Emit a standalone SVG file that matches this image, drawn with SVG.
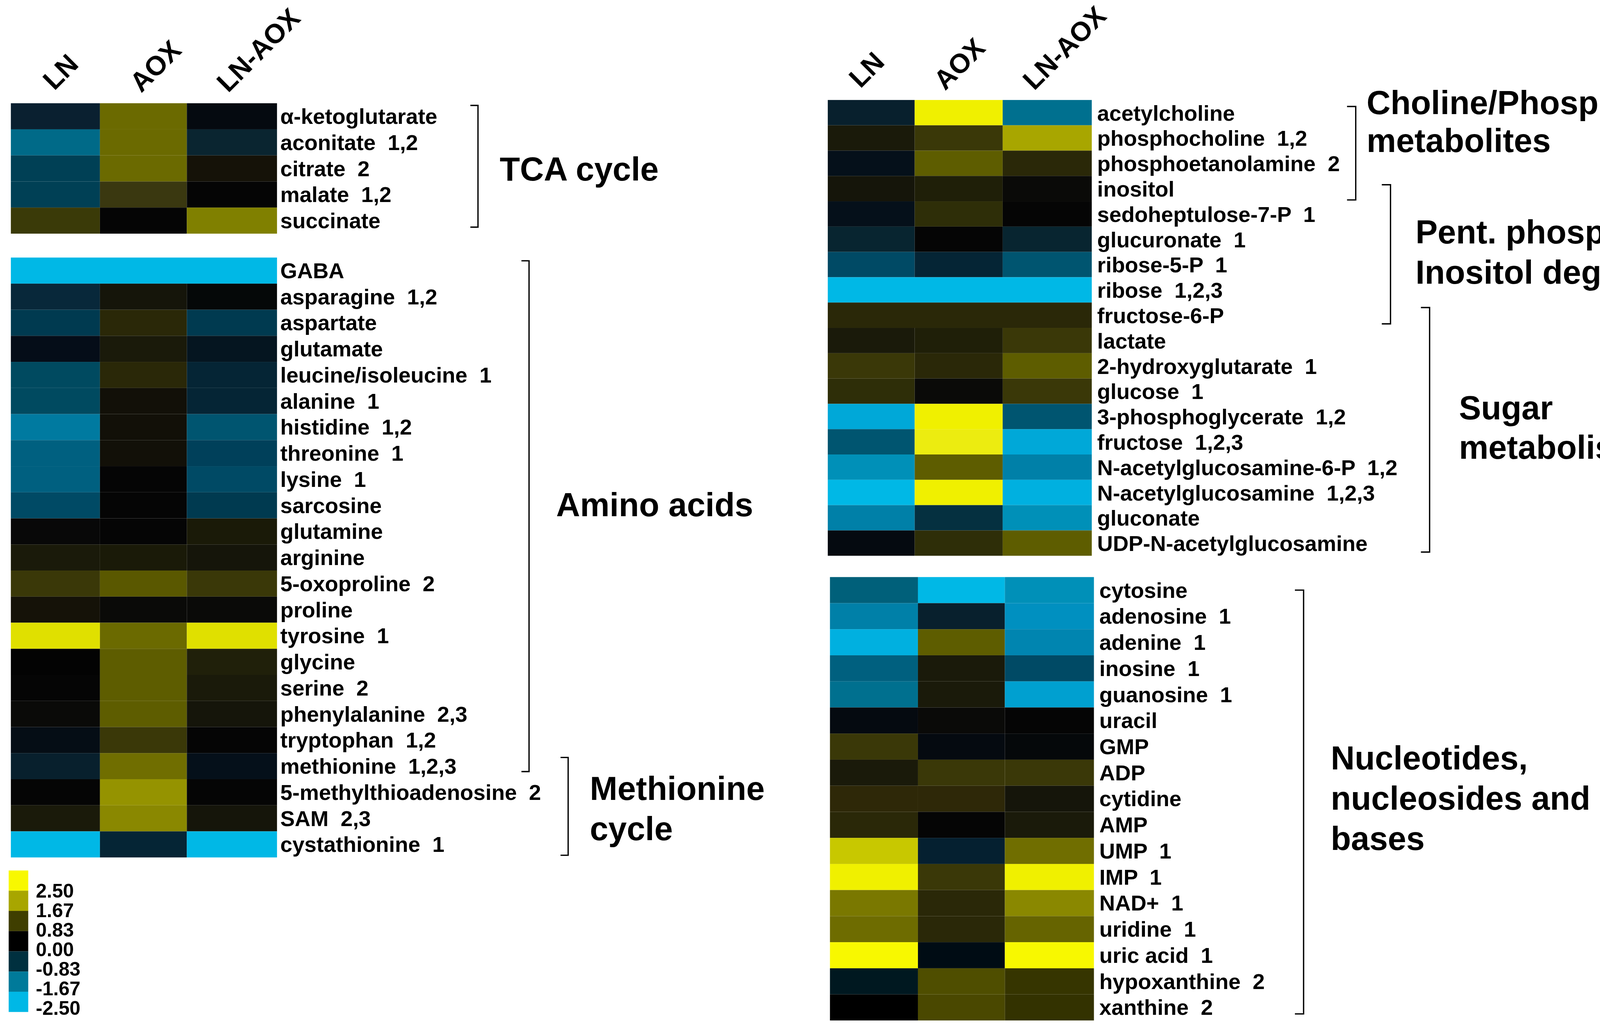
<svg xmlns="http://www.w3.org/2000/svg" width="4347" height="2623" viewBox="0 0 4347 2623">
<style>
text{font-family:"Liberation Sans",Arial,sans-serif;font-weight:bold;fill:#000;white-space:pre}
.r{font-size:20px}
.g{font-size:30.5px}
.h{font-size:25px}
.l{font-size:18px}
.b{fill:none;stroke:#000;stroke-width:1.2}
</style>
<rect width="4347" height="2623" fill="#fff"/>
<g transform="scale(2.781)">
<g id="headers">
<text class="h" transform="translate(50,84) rotate(-45)">LN</text>
<text class="h" transform="translate(130,86) rotate(-45)">AOX</text>
<text class="h" transform="translate(210,86) rotate(-45)">LN-AOX</text>
<text class="h" transform="translate(792,82) rotate(-45)">LN</text>
<text class="h" transform="translate(870,84) rotate(-45)">AOX</text>
<text class="h" transform="translate(952,84) rotate(-45)">LN-AOX</text>
</g>
<g id="tca">
<rect x="10" y="95" width="82" height="24" fill="#0a2030"/><rect x="92" y="95" width="80" height="24" fill="#6b6a00"/><rect x="172" y="95" width="83" height="24" fill="#050a10"/>
<rect x="10" y="119" width="82" height="24" fill="#006a88"/><rect x="92" y="119" width="80" height="24" fill="#6b6a00"/><rect x="172" y="119" width="83" height="24" fill="#0a2530"/>
<rect x="10" y="143" width="82" height="24" fill="#004055"/><rect x="92" y="143" width="80" height="24" fill="#6b6a00"/><rect x="172" y="143" width="83" height="24" fill="#151208"/>
<rect x="10" y="167" width="82" height="24" fill="#004055"/><rect x="92" y="167" width="80" height="24" fill="#3a3810"/><rect x="172" y="167" width="83" height="24" fill="#050505"/>
<rect x="10" y="191" width="82" height="24" fill="#3a3a08"/><rect x="92" y="191" width="80" height="24" fill="#050505"/><rect x="172" y="191" width="83" height="24" fill="#808000"/>
<text class="r" x="258" y="114">α-ketoglutarate</text><text class="r" x="258" y="138">aconitate  1,2</text><text class="r" x="258" y="162">citrate  2</text><text class="r" x="258" y="186">malate  1,2</text><text class="r" x="258" y="210">succinate</text>
</g>
<g id="amino">
<g transform="translate(0,237)">
<rect x="10" y="0" width="245" height="24" fill="#00b8e6"/>
<rect x="10" y="24" width="82" height="24" fill="#08283a"/><rect x="92" y="24" width="80" height="24" fill="#15150a"/><rect x="172" y="24" width="83" height="24" fill="#050808"/>
<rect x="10" y="48" width="82" height="24" fill="#003a50"/><rect x="92" y="48" width="80" height="24" fill="#2a2808"/><rect x="172" y="48" width="83" height="24" fill="#003a50"/>
<rect x="10" y="72" width="82" height="24" fill="#050d18"/><rect x="92" y="72" width="80" height="24" fill="#1a1a0a"/><rect x="172" y="72" width="83" height="24" fill="#051520"/>
<rect x="10" y="96" width="82" height="24" fill="#004a60"/><rect x="92" y="96" width="80" height="24" fill="#2a2808"/><rect x="172" y="96" width="83" height="24" fill="#052535"/>
<rect x="10" y="120" width="82" height="24" fill="#004a60"/><rect x="92" y="120" width="80" height="24" fill="#121008"/><rect x="172" y="120" width="83" height="24" fill="#052535"/>
<rect x="10" y="144" width="82" height="24" fill="#007aa0"/><rect x="92" y="144" width="80" height="24" fill="#121008"/><rect x="172" y="144" width="83" height="24" fill="#005570"/>
<rect x="10" y="168" width="82" height="24" fill="#006080"/><rect x="92" y="168" width="80" height="24" fill="#121008"/><rect x="172" y="168" width="83" height="24" fill="#00405a"/>
<rect x="10" y="192" width="82" height="24" fill="#006080"/><rect x="92" y="192" width="80" height="24" fill="#050505"/><rect x="172" y="192" width="83" height="24" fill="#004a65"/>
<rect x="10" y="216" width="82" height="24" fill="#004a65"/><rect x="92" y="216" width="80" height="24" fill="#050505"/><rect x="172" y="216" width="83" height="24" fill="#003a50"/>
<rect x="10" y="240" width="82" height="24" fill="#080808"/><rect x="92" y="240" width="80" height="24" fill="#050505"/><rect x="172" y="240" width="83" height="24" fill="#1a1a08"/>
<rect x="10" y="264" width="82" height="24" fill="#1a1a0a"/><rect x="92" y="264" width="80" height="24" fill="#1a1a08"/><rect x="172" y="264" width="83" height="24" fill="#15150a"/>
<rect x="10" y="288" width="82" height="24" fill="#3a3808"/><rect x="92" y="288" width="80" height="24" fill="#5a5800"/><rect x="172" y="288" width="83" height="24" fill="#3a3808"/>
<rect x="10" y="312" width="82" height="24" fill="#151208"/><rect x="92" y="312" width="80" height="24" fill="#0a0a08"/><rect x="172" y="312" width="83" height="24" fill="#0a0a08"/>
<rect x="10" y="336" width="82" height="24" fill="#e0e000"/><rect x="92" y="336" width="80" height="24" fill="#6b6a00"/><rect x="172" y="336" width="83" height="24" fill="#e0e000"/>
<rect x="10" y="360" width="82" height="24" fill="#030303"/><rect x="92" y="360" width="80" height="24" fill="#5e5d00"/><rect x="172" y="360" width="83" height="24" fill="#20200a"/>
<rect x="10" y="384" width="82" height="24" fill="#050505"/><rect x="92" y="384" width="80" height="24" fill="#5e5d00"/><rect x="172" y="384" width="83" height="24" fill="#1a1a0a"/>
<rect x="10" y="408" width="82" height="24" fill="#0a0a08"/><rect x="92" y="408" width="80" height="24" fill="#5e5d00"/><rect x="172" y="408" width="83" height="24" fill="#15150a"/>
<rect x="10" y="432" width="82" height="24" fill="#050d15"/><rect x="92" y="432" width="80" height="24" fill="#3a3808"/><rect x="172" y="432" width="83" height="24" fill="#050505"/>
<rect x="10" y="456" width="82" height="24" fill="#08202d"/><rect x="92" y="456" width="80" height="24" fill="#706e00"/><rect x="172" y="456" width="83" height="24" fill="#05101a"/>
<rect x="10" y="480" width="82" height="24" fill="#050505"/><rect x="92" y="480" width="80" height="24" fill="#959300"/><rect x="172" y="480" width="83" height="24" fill="#050505"/>
<rect x="10" y="504" width="82" height="24" fill="#1a1a0a"/><rect x="92" y="504" width="80" height="24" fill="#8a8800"/><rect x="172" y="504" width="83" height="24" fill="#15150a"/>
<rect x="10" y="528" width="82" height="24" fill="#00b8e6"/><rect x="92" y="528" width="80" height="24" fill="#052535"/><rect x="172" y="528" width="83" height="24" fill="#00b8e6"/>
<text class="r" x="258" y="19">GABA</text><text class="r" x="258" y="43">asparagine  1,2</text><text class="r" x="258" y="67">aspartate</text><text class="r" x="258" y="91">glutamate</text><text class="r" x="258" y="115">leucine/isoleucine  1</text><text class="r" x="258" y="139">alanine  1</text><text class="r" x="258" y="163">histidine  1,2</text><text class="r" x="258" y="187">threonine  1</text><text class="r" x="258" y="211">lysine  1</text><text class="r" x="258" y="235">sarcosine</text><text class="r" x="258" y="259">glutamine</text><text class="r" x="258" y="283">arginine</text><text class="r" x="258" y="307">5-oxoproline  2</text><text class="r" x="258" y="331">proline</text><text class="r" x="258" y="355">tyrosine  1</text><text class="r" x="258" y="379">glycine</text><text class="r" x="258" y="403">serine  2</text><text class="r" x="258" y="427">phenylalanine  2,3</text><text class="r" x="258" y="451">tryptophan  1,2</text><text class="r" x="258" y="475">methionine  1,2,3</text><text class="r" x="258" y="499">5-methylthioadenosine  2</text><text class="r" x="258" y="523">SAM  2,3</text><text class="r" x="258" y="547">cystathionine  1</text>
</g>
</g>
<g id="sugar">
<g transform="translate(0,92)">
<rect x="762" y="0" width="80" height="23.3" fill="#08202d"/><rect x="842" y="0" width="81" height="23.3" fill="#f0f000"/><rect x="923" y="0" width="82" height="23.3" fill="#00708f"/>
<rect x="762" y="23.3" width="80" height="23.3" fill="#1a1a0a"/><rect x="842" y="23.3" width="81" height="23.3" fill="#3a3808"/><rect x="923" y="23.3" width="82" height="23.3" fill="#a8a600"/>
<rect x="762" y="46.6" width="80" height="23.3" fill="#05101a"/><rect x="842" y="46.6" width="81" height="23.3" fill="#5e5d00"/><rect x="923" y="46.6" width="82" height="23.3" fill="#2a2808"/>
<rect x="762" y="69.9" width="80" height="23.3" fill="#15150a"/><rect x="842" y="69.9" width="81" height="23.3" fill="#1f1f08"/><rect x="923" y="69.9" width="82" height="23.3" fill="#0a0a08"/>
<rect x="762" y="93.2" width="80" height="23.3" fill="#05101a"/><rect x="842" y="93.2" width="81" height="23.3" fill="#2e2e08"/><rect x="923" y="93.2" width="82" height="23.3" fill="#050505"/>
<rect x="762" y="116.5" width="80" height="23.3" fill="#082530"/><rect x="842" y="116.5" width="81" height="23.3" fill="#050505"/><rect x="923" y="116.5" width="82" height="23.3" fill="#082530"/>
<rect x="762" y="139.8" width="80" height="23.3" fill="#004a65"/><rect x="842" y="139.8" width="81" height="23.3" fill="#052535"/><rect x="923" y="139.8" width="82" height="23.3" fill="#005570"/>
<rect x="762" y="163.1" width="243" height="23.3" fill="#00b8e6"/>
<rect x="762" y="186.4" width="243" height="23.3" fill="#2a2808"/>
<rect x="762" y="209.7" width="80" height="23.3" fill="#1a1a0a"/><rect x="842" y="209.7" width="81" height="23.3" fill="#1f1f08"/><rect x="923" y="209.7" width="82" height="23.3" fill="#3a3808"/>
<rect x="762" y="233" width="80" height="23.3" fill="#3a3808"/><rect x="842" y="233" width="81" height="23.3" fill="#2a2808"/><rect x="923" y="233" width="82" height="23.3" fill="#5e5d00"/>
<rect x="762" y="256.3" width="80" height="23.3" fill="#2e2e08"/><rect x="842" y="256.3" width="81" height="23.3" fill="#0a0a08"/><rect x="923" y="256.3" width="82" height="23.3" fill="#3a3808"/>
<rect x="762" y="279.6" width="80" height="23.3" fill="#00a8d8"/><rect x="842" y="279.6" width="81" height="23.3" fill="#f0f000"/><rect x="923" y="279.6" width="82" height="23.3" fill="#005570"/>
<rect x="762" y="302.9" width="80" height="23.3" fill="#005570"/><rect x="842" y="302.9" width="81" height="23.3" fill="#ecec10"/><rect x="923" y="302.9" width="82" height="23.3" fill="#00a8d8"/>
<rect x="762" y="326.2" width="80" height="23.3" fill="#0090b8"/><rect x="842" y="326.2" width="81" height="23.3" fill="#5e5d00"/><rect x="923" y="326.2" width="82" height="23.3" fill="#0080a8"/>
<rect x="762" y="349.5" width="80" height="23.3" fill="#00b8e6"/><rect x="842" y="349.5" width="81" height="23.3" fill="#f0f000"/><rect x="923" y="349.5" width="82" height="23.3" fill="#00b0e0"/>
<rect x="762" y="372.8" width="80" height="23.3" fill="#0080a8"/><rect x="842" y="372.8" width="81" height="23.3" fill="#053040"/><rect x="923" y="372.8" width="82" height="23.3" fill="#0090b8"/>
<rect x="762" y="396.1" width="80" height="23.3" fill="#050a10"/><rect x="842" y="396.1" width="81" height="23.3" fill="#2e2e08"/><rect x="923" y="396.1" width="82" height="23.3" fill="#5e5d00"/>
<text class="r" x="1010" y="19">acetylcholine</text><text class="r" x="1010" y="42.3">phosphocholine  1,2</text><text class="r" x="1010" y="65.6">phosphoetanolamine  2</text><text class="r" x="1010" y="88.9">inositol</text><text class="r" x="1010" y="112.2">sedoheptulose-7-P  1</text><text class="r" x="1010" y="135.5">glucuronate  1</text><text class="r" x="1010" y="158.8">ribose-5-P  1</text><text class="r" x="1010" y="182.1">ribose  1,2,3</text><text class="r" x="1010" y="205.4">fructose-6-P</text><text class="r" x="1010" y="228.7">lactate</text><text class="r" x="1010" y="252">2-hydroxyglutarate  1</text><text class="r" x="1010" y="275.3">glucose  1</text><text class="r" x="1010" y="298.6">3-phosphoglycerate  1,2</text><text class="r" x="1010" y="321.9">fructose  1,2,3</text><text class="r" x="1010" y="345.2">N-acetylglucosamine-6-P  1,2</text><text class="r" x="1010" y="368.5">N-acetylglucosamine  1,2,3</text><text class="r" x="1010" y="391.8">gluconate</text><text class="r" x="1010" y="415.1">UDP-N-acetylglucosamine</text>
</g>
</g>
<g id="nucleotides">
<g transform="translate(0,531)">
<rect x="764" y="0" width="81" height="24" fill="#00607a"/><rect x="845" y="0" width="80" height="24" fill="#00b8e6"/><rect x="925" y="0" width="82" height="24" fill="#0090b8"/>
<rect x="764" y="24" width="81" height="24" fill="#0080a8"/><rect x="845" y="24" width="80" height="24" fill="#08202d"/><rect x="925" y="24" width="82" height="24" fill="#0090c0"/>
<rect x="764" y="48" width="81" height="24" fill="#00b0e0"/><rect x="845" y="48" width="80" height="24" fill="#5e5d00"/><rect x="925" y="48" width="82" height="24" fill="#0085b0"/>
<rect x="764" y="72" width="81" height="24" fill="#00607f"/><rect x="845" y="72" width="80" height="24" fill="#1a1a0a"/><rect x="925" y="72" width="82" height="24" fill="#004a65"/>
<rect x="764" y="96" width="81" height="24" fill="#00708f"/><rect x="845" y="96" width="80" height="24" fill="#1a1a0a"/><rect x="925" y="96" width="82" height="24" fill="#00a0d0"/>
<rect x="764" y="120" width="81" height="24" fill="#050a10"/><rect x="845" y="120" width="80" height="24" fill="#0a0a08"/><rect x="925" y="120" width="82" height="24" fill="#050505"/>
<rect x="764" y="144" width="81" height="24" fill="#3a3808"/><rect x="845" y="144" width="80" height="24" fill="#050a10"/><rect x="925" y="144" width="82" height="24" fill="#05080a"/>
<rect x="764" y="168" width="81" height="24" fill="#1a1a0a"/><rect x="845" y="168" width="80" height="24" fill="#3a3808"/><rect x="925" y="168" width="82" height="24" fill="#3a3808"/>
<rect x="764" y="192" width="81" height="24" fill="#2e2808"/><rect x="845" y="192" width="80" height="24" fill="#2e2808"/><rect x="925" y="192" width="82" height="24" fill="#15150a"/>
<rect x="764" y="216" width="81" height="24" fill="#2a2808"/><rect x="845" y="216" width="80" height="24" fill="#050505"/><rect x="925" y="216" width="82" height="24" fill="#1a1a0a"/>
<rect x="764" y="240" width="81" height="24" fill="#c8c800"/><rect x="845" y="240" width="80" height="24" fill="#052030"/><rect x="925" y="240" width="82" height="24" fill="#706e00"/>
<rect x="764" y="264" width="81" height="24" fill="#f0f000"/><rect x="845" y="264" width="80" height="24" fill="#3a3808"/><rect x="925" y="264" width="82" height="24" fill="#f0f000"/>
<rect x="764" y="288" width="81" height="24" fill="#7a7800"/><rect x="845" y="288" width="80" height="24" fill="#2a2808"/><rect x="925" y="288" width="82" height="24" fill="#8a8800"/>
<rect x="764" y="312" width="81" height="24" fill="#6e6c00"/><rect x="845" y="312" width="80" height="24" fill="#2a2808"/><rect x="925" y="312" width="82" height="24" fill="#666400"/>
<rect x="764" y="336" width="81" height="24" fill="#f8f800"/><rect x="845" y="336" width="80" height="24" fill="#000c14"/><rect x="925" y="336" width="82" height="24" fill="#f8f800"/>
<rect x="764" y="360" width="81" height="24" fill="#001820"/><rect x="845" y="360" width="80" height="24" fill="#4f4e00"/><rect x="925" y="360" width="82" height="24" fill="#363500"/>
<rect x="764" y="384" width="81" height="24" fill="#000000"/><rect x="845" y="384" width="80" height="24" fill="#4a4800"/><rect x="925" y="384" width="82" height="24" fill="#333200"/>
<text class="r" x="1012" y="19">cytosine</text><text class="r" x="1012" y="43">adenosine  1</text><text class="r" x="1012" y="67">adenine  1</text><text class="r" x="1012" y="91">inosine  1</text><text class="r" x="1012" y="115">guanosine  1</text><text class="r" x="1012" y="139">uracil</text><text class="r" x="1012" y="163">GMP</text><text class="r" x="1012" y="187">ADP</text><text class="r" x="1012" y="211">cytidine</text><text class="r" x="1012" y="235">AMP</text><text class="r" x="1012" y="259">UMP  1</text><text class="r" x="1012" y="283">IMP  1</text><text class="r" x="1012" y="307">NAD+  1</text><text class="r" x="1012" y="331">uridine  1</text><text class="r" x="1012" y="355">uric acid  1</text><text class="r" x="1012" y="379">hypoxanthine  2</text><text class="r" x="1012" y="403">xanthine  2</text>
</g>
</g>
<g id="brackets">
<path class="b" d="M433,97 H440 V209 H433"/>
<path class="b" d="M480,240 H487 V710 H480"/>
<path class="b" d="M516,697 H523 V787 H516"/>
<path class="b" d="M1240,98 H1248 V184 H1240"/>
<path class="b" d="M1272,170 H1280 V298 H1272"/>
<path class="b" d="M1308,283 H1316 V508 H1308"/>
<path class="b" d="M1192,543 H1200 V933 H1192"/>
</g>
<g id="group-labels">
<text class="g" x="460" y="166">TCA cycle</text>
<text class="g" x="512" y="475">Amino acids</text>
<text class="g" x="543" y="736">Methionine</text><text class="g" x="543" y="773">cycle</text>
<text class="g" x="1258" y="105">Choline/Phospholip.</text><text class="g" x="1258" y="140">metabolites</text>
<text class="g" x="1303" y="224">Pent. phosp./</text><text class="g" x="1303" y="261">Inositol deg.</text>
<text class="g" x="1343" y="386">Sugar</text><text class="g" x="1343" y="422">metabolism</text>
<text class="g" x="1225" y="708">Nucleotides,</text><text class="g" x="1225" y="745">nucleosides and</text><text class="g" x="1225" y="782">bases</text>
</g>
<g id="legend">
<rect x="8" y="801" width="18" height="18.6" fill="#f8f800"/>
<rect x="8" y="819.6" width="18" height="18.6" fill="#a8a600"/>
<rect x="8" y="838.2" width="18" height="18.6" fill="#3f3e00"/>
<rect x="8" y="856.8" width="18" height="18.6" fill="#000000"/>
<rect x="8" y="875.4" width="18" height="18.6" fill="#00303f"/>
<rect x="8" y="894" width="18" height="18.6" fill="#007a9a"/>
<rect x="8" y="912.6" width="18" height="18.6" fill="#00b8e6"/>
<text class="l" x="33" y="826">2.50</text><text class="l" x="33" y="844">1.67</text><text class="l" x="33" y="862">0.83</text><text class="l" x="33" y="880">0.00</text><text class="l" x="33" y="898">-0.83</text><text class="l" x="33" y="916">-1.67</text><text class="l" x="33" y="934">-2.50</text>
</g>
</g>
</svg>
